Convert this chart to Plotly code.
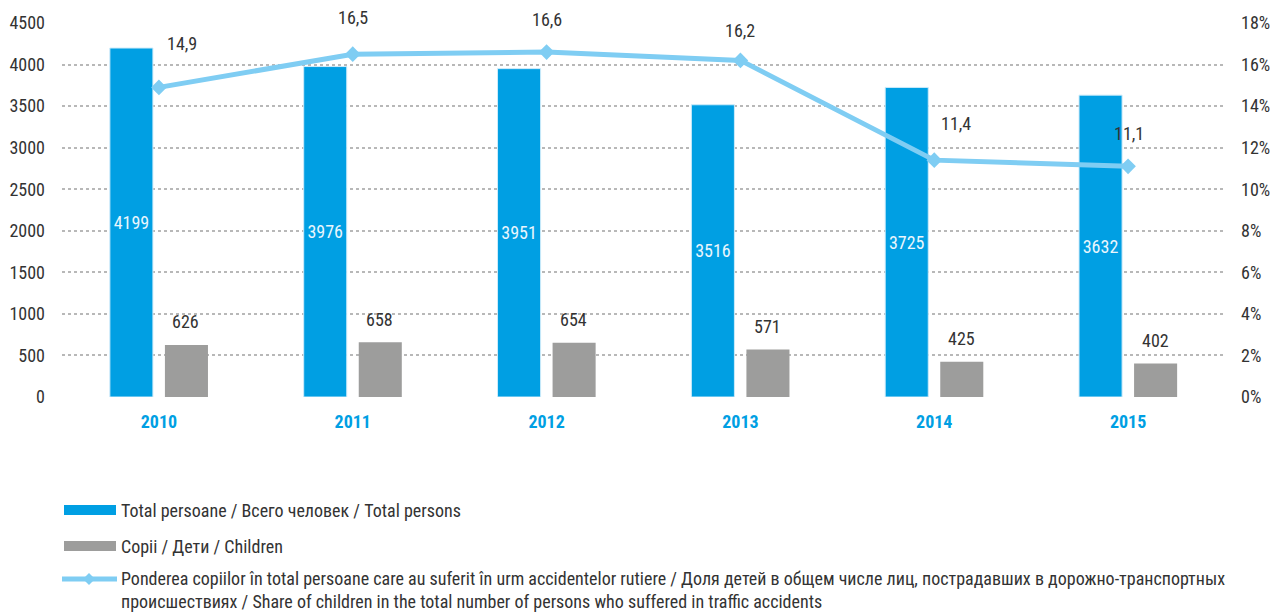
import plotly.graph_objects as go

years = ["2010", "2011", "2012", "2013", "2014", "2015"]
total_persons = [4199, 3976, 3951, 3516, 3725, 3632]
children = [626, 658, 654, 571, 425, 402]
share_children = [14.9, 16.5, 16.6, 16.2, 11.4, 11.1]
share_labels = ["14,9", "16,5", "16,6", "16,2", "11,4", "11,1"]

left_ticks = [0, 500, 1000, 1500, 2000, 2500, 3000, 3500, 4000, 4500]
right_ticks = [0, 2, 4, 6, 8, 10, 12, 14, 16, 18]

legend_names = [
    "Total persoane / Всего человек / Total persons",
    "Copii / Дети / Children",
    "Ponderea copiilor în total persoane care au suferit în urm accidentelor rutiere / Доля детей в общем числе лиц, пострадавших в дорожно-транспортных<br>происшествиях / Share of children in the total number of persons who suffered in traffic accidents",
]

BLUE = "#009FE3"
GRAY = "#9D9D9C"
LINE = "#7FCDF3"
TXT = "#333333"
FONT = "Roboto Condensed, Liberation Sans Narrow, Roboto, sans-serif"
FS = 18

# page has an 8px body margin: work in figure coordinates = reference pixels - 8
OFF = 8
W, H = 1281 - OFF, 612 - OFF
L, R, T, B = 62 - OFF, 1225 - OFF, 23 - OFF, 397 - OFF

def px_x(x):
    return (x - OFF - L) / (R - L)

def px_y(y):
    return (B - (y - OFF)) / (B - T)

fig = go.Figure()
fig.add_trace(go.Bar(
    x=years, y=total_persons, name=legend_names[0], marker_color=BLUE,
    marker_line=dict(color="#CDEBFA", width=1),
    text=[str(v) for v in total_persons], textposition="inside",
    insidetextanchor="middle", textfont=dict(color="#EAF6FD", size=FS, family=FONT),
    yaxis="y",
))
fig.add_trace(go.Bar(
    x=years, y=children, name=legend_names[1], marker_color=GRAY,
    marker_line=dict(width=0), yaxis="y",
))
fig.add_trace(go.Scatter(
    x=years, y=share_children, name=legend_names[2], mode="lines+markers",
    line=dict(color=LINE, width=5), marker=dict(symbol="diamond", size=12, color=LINE),
    yaxis="y2",
))

annotations = []
# children value labels above gray bars (x as category index)
for i, v in enumerate(children):
    annotations.append(dict(x=i, y=v, xref="x", yref="y", text=str(v), showarrow=False,
                            xshift=27, yshift=23, font=dict(size=FS, color=TXT, family=FONT)))
# share labels
sx = [23, 0, 0, 0, 22, 1]
sy = [44, 37, 33, 30, 37, 33]
for i, (v, lab, dx, dy) in enumerate(zip(share_children, share_labels, sx, sy)):
    annotations.append(dict(x=i, y=v, xref="x", yref="y2", text=lab, showarrow=False,
                            xshift=dx, yshift=dy, font=dict(size=FS, color=TXT, family=FONT)))

# manual legend (reference pixel positions)
shapes = []
rows = [510, 546]
cols = [BLUE, GRAY]
for yy, c, name in zip(rows, cols, legend_names[:2]):
    shapes.append(dict(type="rect", xref="paper", yref="paper",
                       x0=px_x(64), x1=px_x(116), y0=px_y(yy + 5), y1=px_y(yy - 5),
                       fillcolor=c, line=dict(width=0)))
    annotations.append(dict(x=px_x(119), y=px_y(yy), xref="paper", yref="paper", text=name,
                            showarrow=False, xanchor="left", yanchor="middle",
                            font=dict(size=FS, color=TXT, family=FONT)))
shapes.append(dict(type="line", xref="paper", yref="paper",
                   x0=px_x(62), x1=px_x(117), y0=px_y(579), y1=px_y(579),
                   line=dict(color=LINE, width=5)))
shapes.append(dict(type="path", xref="paper", yref="paper",
                   path="M {a},{b} L {c},{d} L {a},{e} L {f},{d} Z".format(
                       a=px_x(89), b=px_y(573), c=px_x(95), d=px_y(579), e=px_y(585), f=px_x(83)),
                   fillcolor=LINE, line=dict(width=0)))
annotations.append(dict(x=px_x(119), y=px_y(590), xref="paper", yref="paper", text=legend_names[2],
                        showarrow=False, xanchor="left", yanchor="middle", align="left",
                        font=dict(size=FS, color=TXT, family=FONT)))

fig.update_layout(
    template="none",
    width=W, height=H,
    margin=dict(l=L, r=W - R, t=T, b=H - B, pad=0, autoexpand=False),
    paper_bgcolor="white", plot_bgcolor="white",
    showlegend=False,
    barmode="group", bargap=0.432, bargroupgap=0.218,
    font=dict(family=FONT, size=FS, color=TXT),
    xaxis=dict(type="category", range=[-0.5, len(years) - 0.5], showgrid=False,
               zeroline=False, showline=False, automargin=False,
               tickfont=dict(color=BLUE, size=FS, family=FONT, weight="bold"),
               ticks="", ticklabelstandoff=12),
    yaxis=dict(range=[0, 4500], tickvals=left_ticks, showgrid=True,
               gridcolor="#B8B8B8", griddash="dot", gridwidth=2, automargin=False,
               zeroline=False, showline=False, ticks="", ticklabelstandoff=16,
               tickfont=dict(size=FS, color=TXT, family=FONT)),
    yaxis2=dict(range=[0, 18], tickvals=right_ticks, ticktext=[f"{v}%" for v in right_ticks],
                overlaying="y", side="right", showgrid=False, zeroline=False, showline=False,
                automargin=False,
                ticks="", ticklabelstandoff=15, tickfont=dict(size=FS, color=TXT, family=FONT)),
    annotations=annotations, shapes=shapes,
)

fig.write_html("out.html")
